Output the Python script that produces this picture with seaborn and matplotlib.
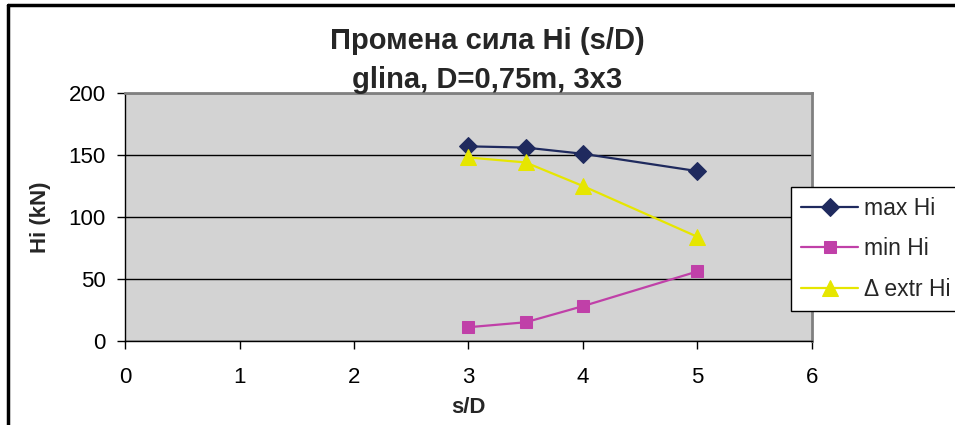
import numpy as np
import pandas as pd
import matplotlib
matplotlib.use("Agg")
import matplotlib.pyplot as plt
import seaborn as sns
from matplotlib.lines import Line2D

sns.set_style("white")
plt.rcParams['font.family'] = ['Liberation Sans', 'DejaVu Sans']

s_d = [3, 3.5, 4, 5]
max_hi = [157, 156, 151, 137]
min_hi = [11, 15, 28, 56]
delta_hi = [148, 144, 125, 84]

series_names = ['max Hi', 'min Hi', 'Δ extr Hi']
series_colors = ['#1F2A5E', '#C040A8', '#E6E600']
series_markers = ['D', 's', '^']
marker_sizes = [9, 9, 11]

df = pd.DataFrame({'s/D': s_d * 3,
                   'Hi': max_hi + min_hi + delta_hi,
                   'serija': [n for n in series_names for _ in s_d]})

fig = plt.figure(figsize=(9.55, 4.25), dpi=100)
ax = fig.add_axes([0.131, 0.198, 0.719, 0.583])
ax.set_facecolor('#D3D3D3')

for name, col, mk, ms in zip(series_names, series_colors, series_markers, marker_sizes):
    sub = df[df['serija'] == name]
    sns.lineplot(x='s/D', y='Hi', data=sub, ax=ax, color=col, marker=mk,
                 markersize=ms, markeredgecolor=col, linewidth=1.6, label=name)

ax.set_xlim(0, 6)
ax.set_ylim(0, 200)
ax.set_xticks(range(0, 7))
ax.set_yticks(range(0, 201, 50))
ax.grid(axis='y', color='black', linewidth=1)
ax.set_axisbelow(True)
ax.tick_params(axis='both', labelsize=16, direction='out', length=6, width=1,
               bottom=True, left=True, colors='black')
ax.tick_params(axis='x', pad=13)
ax.tick_params(axis='y', pad=8)
for side in ['top', 'right']:
    ax.spines[side].set_color('#808080')
    ax.spines[side].set_linewidth(2)
for side in ['left', 'bottom']:
    ax.spines[side].set_color('black')
    ax.spines[side].set_linewidth(1)

ax.set_xlabel('s/D', fontsize=16, fontweight='bold', labelpad=0)
ax.xaxis.set_label_coords(0.5, -0.225)
ax.set_ylabel('Hi (kN)', fontsize=16, fontweight='bold')
ax.yaxis.set_label_coords(-0.108, 0.5)

fig.text(0.51, 0.903, 'Промена сила Hi (s/D)', ha='center', va='center',
         fontsize=21, fontweight='bold')
fig.text(0.51, 0.812, 'glina, D=0,75m, 3x3', ha='center', va='center',
         fontsize=21, fontweight='bold')

leg = ax.legend(loc='upper left', bbox_to_anchor=(0.828, 0.56),
                bbox_transform=fig.transFigure, fontsize=16.5, frameon=True,
                fancybox=False, edgecolor='black', framealpha=1,
                borderpad=0.45, labelspacing=0.75, handlelength=2.5,
                handletextpad=0.25, borderaxespad=0)
leg.get_frame().set_linewidth(1)

# outer frame: only left and top edges are visible in the original
fig.lines.append(Line2D([0.008, 0.008], [0, 0.988], transform=fig.transFigure,
                        color='black', linewidth=2.5))
fig.lines.append(Line2D([0.008, 1], [0.988, 0.988], transform=fig.transFigure,
                        color='black', linewidth=2.5))

fig.savefig('out.png', dpi=100)
